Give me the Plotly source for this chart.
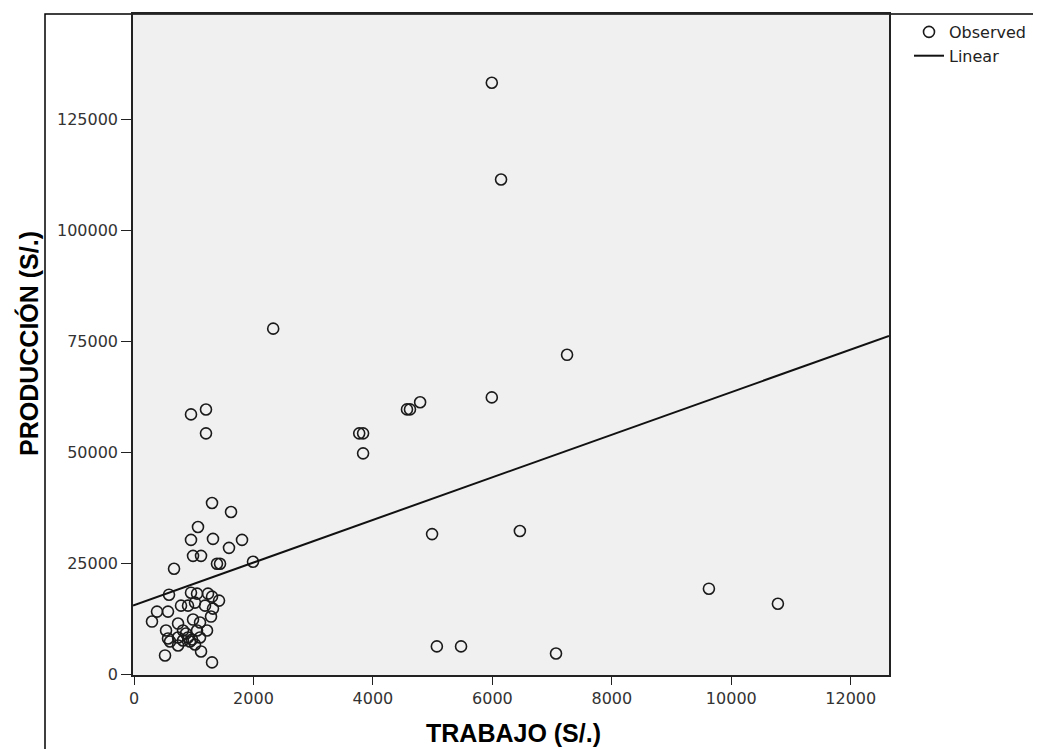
import plotly.graph_objects as go

# Observed data: TRABAJO (S/.) vs PRODUCCIÓN (S/.)
trabajo = [5990, 6145, 7250, 5990, 4790, 4620, 4570, 3770, 3835, 3835, 4990, 6460, 5070, 5475, 7065, 9625, 10780, 2330,
           954, 1205, 1205, 1306, 1624, 1071, 954, 1322, 1808, 1590, 988, 1122, 1389, 1440, 1992, 670,
           586, 954, 1055, 1239, 1306, 1423, 787, 904, 1021, 1189, 1322, 1289, 385, 569, 301, 737, 988, 1105,
           536, 820, 1055, 1222, 569, 737, 904, 1105, 603, 737, 937, 519, 1122, 1306, 870, 971, 820, 1021]
produccion = [133300, 111500, 72000, 62400, 61300, 59700, 59700, 54300, 54300, 49800, 31600, 32300, 6300, 6300, 4700, 19300, 15900, 77900,
              58570, 59690, 54300, 38600, 36580, 33210, 30290, 30520, 30290, 28500, 26700, 26700, 24910, 24910, 25360, 23790,
              17950, 18400, 18180, 18180, 17500, 16610, 15480, 15480, 16160, 15480, 14810, 13020, 14140, 14140, 11890, 11440, 12340, 11670,
              9870, 9870, 9870, 9870, 8080, 8300, 8300, 8300, 7400, 6510, 7400, 4260, 5160, 2690, 9200, 7850, 7630, 6730]

# Linear fit
fit_intercept = 15600
fit_slope = 4.8

x_range = [-17, 12640]
y_range = [-150, 148800]
x_ticks = [0, 2000, 4000, 6000, 8000, 10000, 12000]
y_ticks = [0, 25000, 50000, 75000, 100000, 125000]
x_title = "TRABAJO (S/.)"
y_title = "PRODUCCIÓN (S/.)"

line_x = x_range
line_y = [fit_intercept + fit_slope * v for v in line_x]

fig = go.Figure()
fig.add_trace(go.Scatter(
    x=trabajo, y=produccion, mode="markers", name="Observed",
    marker=dict(symbol="circle-open", size=11, color="#1a1a1a", line=dict(width=1.6, color="#1a1a1a")),
))
fig.add_trace(go.Scatter(
    x=line_x, y=line_y, mode="lines", name="Linear",
    line=dict(color="#111111", width=2),
))

# page body has an 8px margin: convert screen pixels to figure pixels
OFF = 8
W, H = 1041, 749
L, R, T, B = 133 - OFF, 889 - OFF, 12 - OFF, 675 - OFF
pw, ph = R - L, B - T

def px_x(p):
    return (p - OFF - L) / pw

def px_y(p):
    return (B - (p - OFF)) / ph

fig.add_shape(type="rect", xref="paper", yref="paper",
              x0=px_x(45), x1=px_x(1080), y0=px_y(790), y1=px_y(12),
              line=dict(color="black", width=1.5), fillcolor="rgba(0,0,0,0)", layer="below")

tick_font = dict(family="DejaVu Sans, Liberation Sans, Arial, sans-serif", size=16, color="#333333")
title_font = dict(family="Liberation Sans, Arial, sans-serif", size=25, color="black")

fig.add_annotation(text="<b>" + x_title + "</b>", xref="paper", yref="paper",
                   x=px_x(513), y=px_y(733), xanchor="center", yanchor="middle",
                   showarrow=False, font=title_font)
fig.add_annotation(text="<b>" + y_title + "</b>", xref="paper", yref="paper",
                   x=px_x(28), y=px_y(343), xanchor="center", yanchor="middle",
                   textangle=-90, showarrow=False, font=title_font)

fig.update_layout(
    width=W, height=H, autosize=False,
    margin=dict(l=L, r=W - R, t=T, b=H - B, pad=0),
    paper_bgcolor="white", plot_bgcolor="#f0f0f0",
    showlegend=True,
    legend=dict(x=px_x(909), y=px_y(13), xanchor="left", yanchor="top",
                font=dict(family="DejaVu Sans, Liberation Sans, sans-serif", size=16, color="#222222"),
                bgcolor="rgba(0,0,0,0)", borderwidth=0, tracegroupgap=0, itemsizing="trace"),
    xaxis=dict(range=x_range, tickvals=x_ticks, ticktext=[str(v) for v in x_ticks],
               showgrid=False, zeroline=False, showline=True, linecolor="#222222", linewidth=1.5, mirror=True,
               ticks="outside", ticklen=8, tickwidth=1.3, tickcolor="#222222", tickfont=tick_font),
    yaxis=dict(range=y_range, tickvals=y_ticks, ticktext=[str(v) for v in y_ticks],
               showgrid=False, zeroline=False, showline=True, linecolor="#222222", linewidth=1.5, mirror=True,
               ticks="outside", ticklen=10, tickwidth=1.3, tickcolor="#222222", tickfont=tick_font),
)

fig.write_html("out.html")
